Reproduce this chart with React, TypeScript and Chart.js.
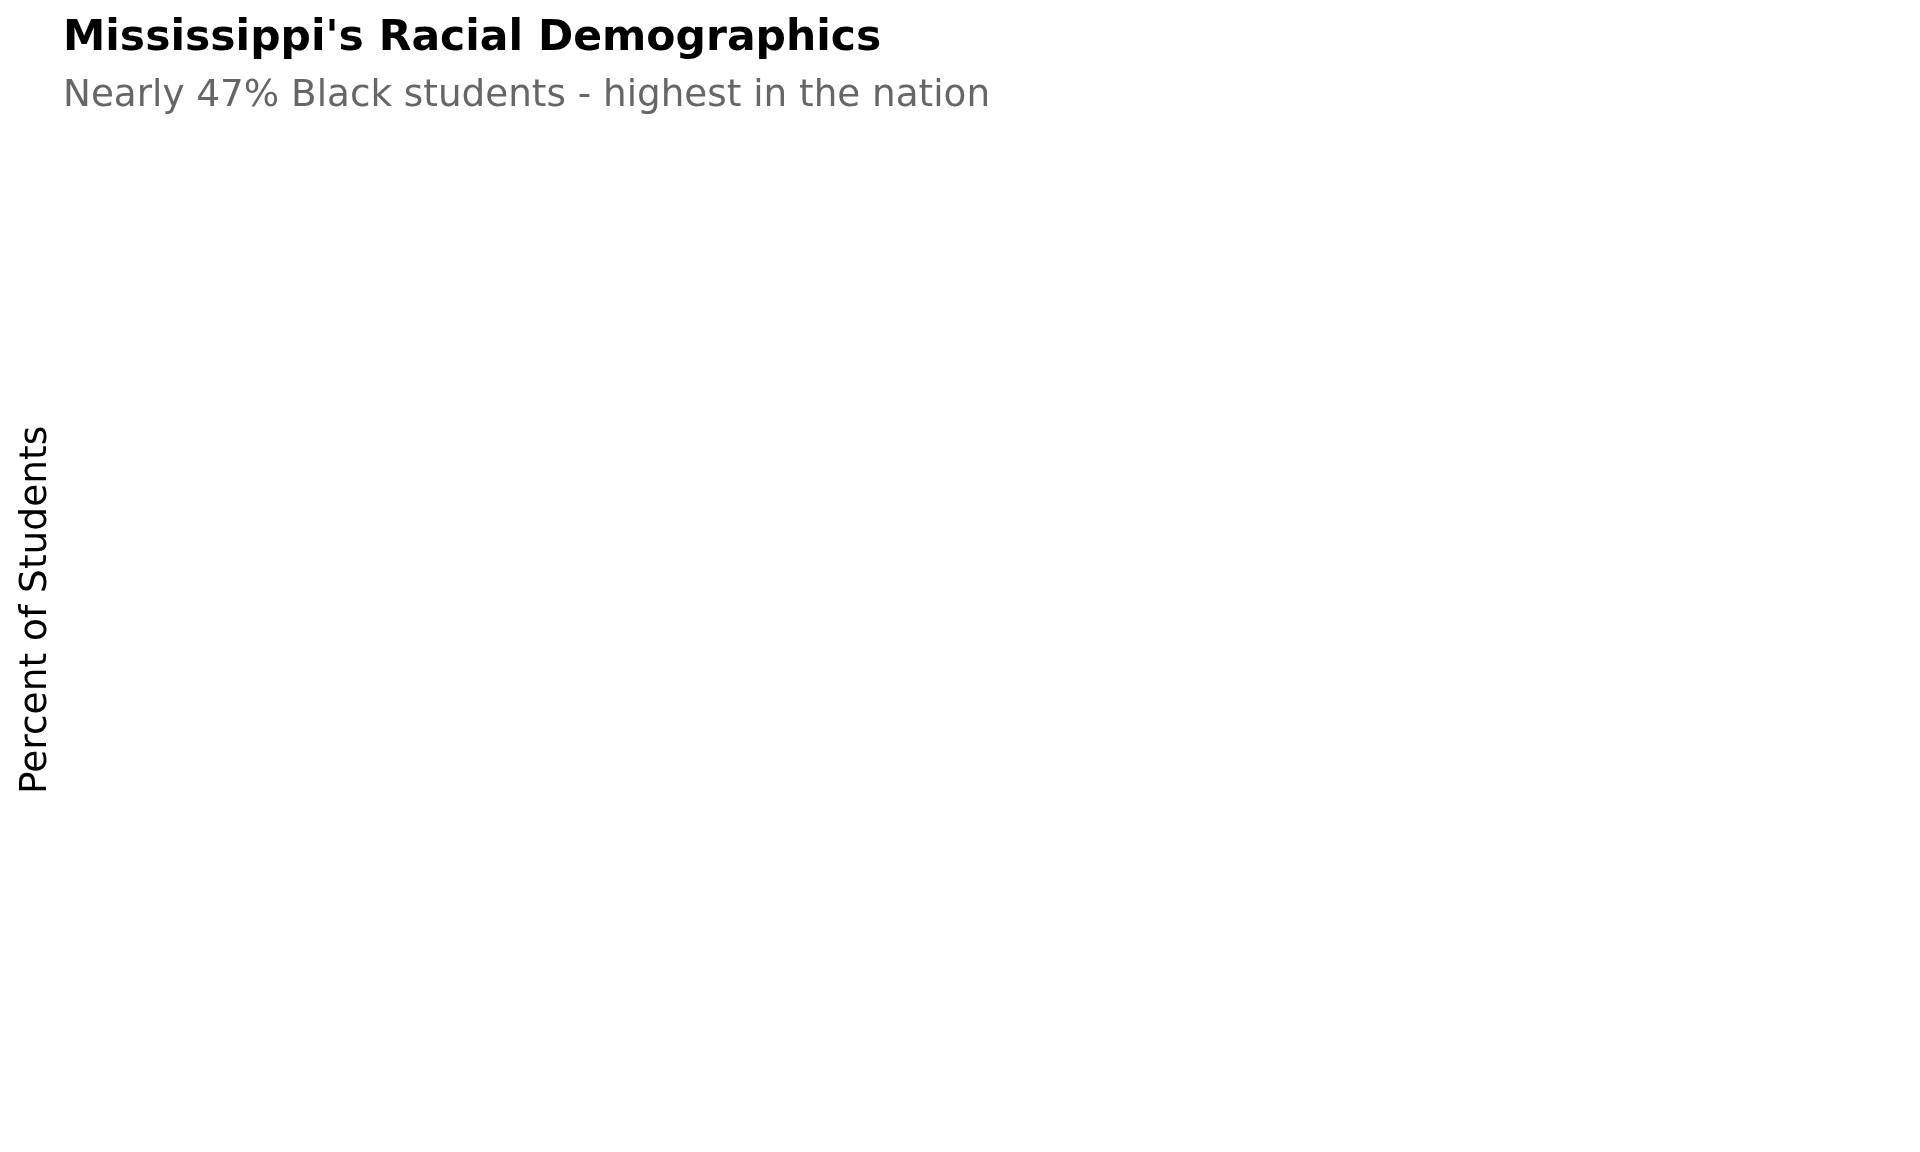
import { useEffect, useRef } from "react";
import { Chart, registerables } from "chart.js";

Chart.register(...registerables);

// The reference shows an empty plot area: no bars, no ticks, only the titles.
const categories: string[] = [];
const percentValues: number[] = [];

const TITLE = "Mississippi's Racial Demographics";
const SUBTITLE = "Nearly 47% Black students - highest in the nation";
const Y_TITLE = "Percent of Students";

export default function App() {
  const chartRef = useRef<HTMLCanvasElement>(null);

  useEffect(() => {
    if (!chartRef.current) return;
    const ctx = chartRef.current.getContext("2d");
    if (!ctx) return;

    const chartInstance = new Chart(ctx, {
      type: "bar",
      data: {
        labels: categories,
        datasets: [
          {
            label: "Percent",
            data: percentValues,
            backgroundColor: "#4c72b0",
          },
        ],
      },
      options: {
        responsive: true,
        maintainAspectRatio: false,
        animation: false,
        layout: {
          padding: { left: 0, right: 20, top: 0, bottom: 53 },
        },
        font: { family: "'DejaVu Sans', sans-serif" },
        plugins: {
          legend: { display: false },
          tooltip: { enabled: false },
          title: {
            display: true,
            text: TITLE,
            align: "start",
            fullSize: false,
            color: "#000000",
            font: { family: "'DejaVu Sans', sans-serif", size: 42.5, weight: "bold" },
            padding: { top: 5.5, bottom: 0 },
          },
          subtitle: {
            display: true,
            text: SUBTITLE,
            align: "start",
            fullSize: false,
            color: "#666666",
            font: { family: "'DejaVu Sans', sans-serif", size: 37.3 },
            padding: { top: 9.5, bottom: 10 },
          },
        },
        scales: {
          x: {
            display: false,
          },
          y: {
            display: true,
            beginAtZero: true,
            ticks: { display: false },
            grid: { display: false, drawTicks: false },
            border: { display: false },
            title: {
              display: true,
              text: Y_TITLE,
              color: "#000000",
              font: { family: "'DejaVu Sans', sans-serif", size: 37.5 },
              padding: { top: 6, bottom: 4 },
            },
          },
        },
      },
    });

    // Clean up the chart on unmount
    return () => {
      chartInstance.destroy();
    };
  }, []);

  return (
    <div style={{ width: "1904px", height: "1136px", position: "relative" }}>
      <canvas ref={chartRef}></canvas>
    </div>
  );
}
